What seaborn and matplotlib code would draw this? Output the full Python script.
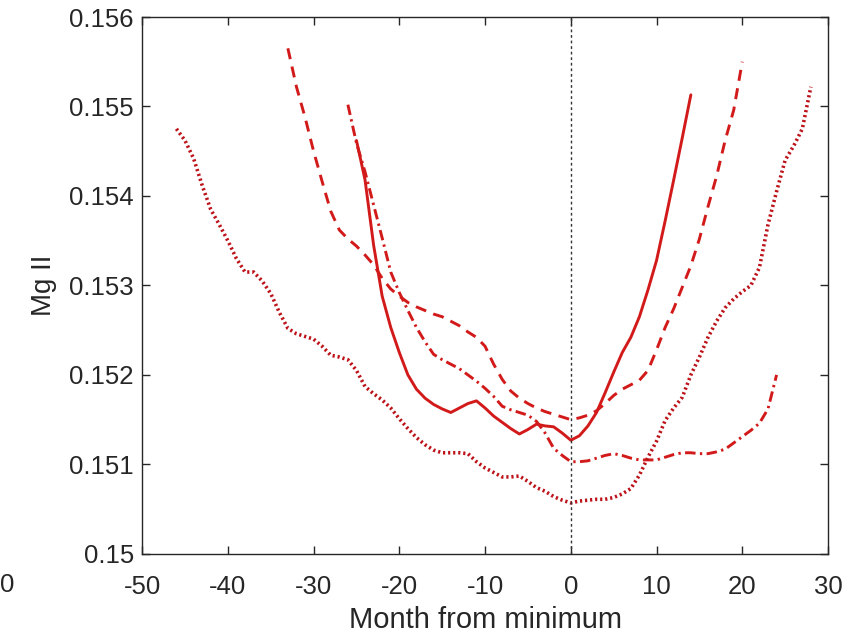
import numpy as np
import pandas as pd
import matplotlib
matplotlib.use("Agg")
import matplotlib.pyplot as plt
import seaborn as sns
from matplotlib.ticker import FuncFormatter

# ---- data ----
solid_x = list(range(-25, 15))
solid_y = [0.15462, 0.15418, 0.15345, 0.15288, 0.15253, 0.15225, 0.15200, 0.15184,
           0.15174, 0.15167, 0.15162, 0.15158, 0.15163, 0.15168, 0.15171, 0.15163,
           0.15154, 0.15147, 0.15140, 0.15134, 0.15139, 0.15145, 0.15143, 0.15142,
           0.15135, 0.15127, 0.15132, 0.15143, 0.15158, 0.15180, 0.15203, 0.15225,
           0.15242, 0.15265, 0.15295, 0.15328, 0.15372, 0.15418, 0.15465, 0.15513]

dashed_x = list(range(-33, 21))
dashed_y = [0.15565, 0.15522, 0.15488, 0.15450, 0.15416, 0.15383, 0.15362, 0.15352,
            0.15344, 0.15334, 0.15323, 0.15308, 0.15296, 0.15288, 0.15281, 0.15276,
            0.15272, 0.15268, 0.15265, 0.15260, 0.15255, 0.15248, 0.15242, 0.15232,
            0.15212, 0.15195, 0.15182, 0.15174, 0.15168, 0.15163, 0.15159, 0.15156,
            0.15153, 0.15150, 0.15152, 0.15155, 0.15160, 0.15168, 0.15177, 0.15184,
            0.15189, 0.15194, 0.15205, 0.15228, 0.15253, 0.15274, 0.15298, 0.15322,
            0.15352, 0.15388, 0.15422, 0.15462, 0.15496, 0.15550]

dashdot_x = list(range(-26, 25))
dashdot_y = [0.15502, 0.15459, 0.15427, 0.15390, 0.15353, 0.15315, 0.15292, 0.15272,
             0.15253, 0.15237, 0.15223, 0.15217, 0.15212, 0.15207, 0.15200, 0.15193,
             0.15185, 0.15176, 0.15165, 0.15161, 0.15158, 0.15155, 0.15148, 0.15135,
             0.15118, 0.15110, 0.15103, 0.15103, 0.15104, 0.15107, 0.15110, 0.15112,
             0.15110, 0.15107, 0.15105, 0.15105, 0.15105, 0.15108, 0.15111, 0.15113,
             0.15113, 0.15112, 0.15112, 0.15114, 0.15117, 0.15124, 0.15131, 0.15138,
             0.15146, 0.15162, 0.15200]

dotted_x = list(range(-46, 29))
dotted_y = [0.15475, 0.15462, 0.15442, 0.15412, 0.15385, 0.15368, 0.15350, 0.15330,
            0.15315, 0.15315, 0.15305, 0.15291, 0.15270, 0.15252, 0.15246, 0.15243,
            0.15240, 0.15232, 0.15222, 0.15220, 0.15217, 0.15205, 0.15187, 0.15179,
            0.15172, 0.15163, 0.15151, 0.15140, 0.15130, 0.15122, 0.15116, 0.15113,
            0.15113, 0.15113, 0.15112, 0.15103, 0.15096, 0.15091, 0.15086, 0.15086,
            0.15087, 0.15081, 0.15074, 0.15070, 0.15064, 0.15060, 0.15057, 0.15059,
            0.15060, 0.15061, 0.15061, 0.15063, 0.15067, 0.15073, 0.15088, 0.15108,
            0.15126, 0.15149, 0.15163, 0.15175, 0.15200, 0.15220, 0.15242, 0.15260,
            0.15275, 0.15285, 0.15293, 0.15300, 0.15320, 0.15368, 0.15405, 0.15440,
            0.15456, 0.15475, 0.15522]

x_ticks = [-50, -40, -30, -20, -10, 0, 10, 20, 30]
y_ticks = [0.150, 0.151, 0.152, 0.153, 0.154, 0.155, 0.156]

sns.set_theme(style="white")
plt.rcParams['font.family'] = ['Liberation Sans', 'DejaVu Sans']

fig = plt.figure(figsize=(8.51, 6.37), dpi=100)
ax = fig.add_axes([0.167, 0.1305, 0.806, 0.8428])

red = '#d21a1a'
lw = 2.1
sns.lineplot(x=solid_x, y=solid_y, ax=ax, color=red, lw=lw, linestyle='-')
sns.lineplot(x=dashed_x, y=dashed_y, ax=ax, color=red, lw=lw,
             linestyle=(0, (3.8, 2.6)))
sns.lineplot(x=dashdot_x, y=dashdot_y, ax=ax, color=red, lw=lw,
             linestyle=(0, (3.6, 1.5, 0.8, 1.5)))
sns.lineplot(x=dotted_x, y=dotted_y, ax=ax, color='#bc1219', lw=2.6,
             linestyle=(0, (0.6, 0.8)))
ax.axvline(0, color='#333333', lw=1.0, linestyle=(0, (2, 2)))

ax.set_xlim(-50, 30)
ax.set_ylim(0.150, 0.156)
ax.set_xticks(x_ticks)
ax.set_yticks(y_ticks)
ax.yaxis.set_major_formatter(FuncFormatter(lambda v, p: f"{v:g}"))
ax.xaxis.set_major_formatter(FuncFormatter(lambda v, p: f"{v:g}"))
ax.tick_params(direction='in', length=6, width=1, colors='#262626',
               labelsize=18.5, top=True, right=True, bottom=True, left=True,
               labelcolor='#262626')
ax.tick_params(axis='x', pad=15)
ax.tick_params(axis='y', pad=6)
for s in ax.spines.values():
    s.set_color('#262626')
    s.set_linewidth(1.0)
ax.set_xlabel('Month from minimum', fontsize=21, color='#262626', labelpad=5)
ax.set_ylabel('Mg II', fontsize=20, color='#262626', labelpad=9)

fig.text(0.0, 0.081, '0', fontsize=18.5, color='#262626', ha='left', va='center')

fig.savefig('out.png', dpi=100)
